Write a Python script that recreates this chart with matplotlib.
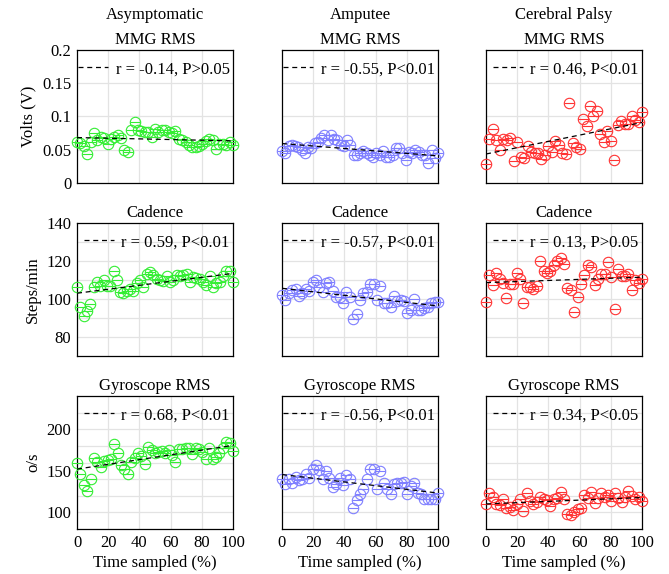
import numpy as np
import matplotlib
matplotlib.use("Agg")
import matplotlib.pyplot as plt

plt.rcParams['font.family'] = ['Liberation Serif', 'DejaVu Serif']

groups = ['Asymptomatic', 'Amputee', 'Cerebral Palsy']
measures = ['MMG RMS', 'Cadence', 'Gyroscope RMS']
ylabels = ['Volts (V)', 'Steps/min', 'o/s']
group_colors = ['#33ee33', '#7f7fff', '#ff3333']

# MMG RMS (V)
mmg_asym = [0.0615, 0.060, 0.056, 0.044, 0.0615, 0.0755, 0.064, 0.069, 0.068, 0.058,
            0.0665, 0.069, 0.0715, 0.0675, 0.050, 0.0465, 0.080, 0.091, 0.080, 0.078,
            0.0765, 0.0765, 0.069, 0.0815, 0.0765, 0.080, 0.079, 0.0765, 0.0755, 0.078,
            0.0665, 0.065, 0.0615, 0.0575, 0.054, 0.054, 0.0555, 0.059, 0.0625, 0.066,
            0.064, 0.0515, 0.058, 0.059, 0.0565, 0.0615, 0.0565]
mmg_amp = [0.048, 0.0446, 0.0556, 0.057, 0.056, 0.0546, 0.0496, 0.0446, 0.0546, 0.052,
           0.0596, 0.062, 0.067, 0.072, 0.0647, 0.072, 0.0657, 0.0647, 0.057, 0.0556,
           0.0647, 0.057, 0.042, 0.042, 0.0446, 0.0486, 0.0446, 0.042, 0.0396, 0.0446,
           0.042, 0.0486, 0.0386, 0.0396, 0.042, 0.052, 0.052, 0.0446, 0.0346, 0.047,
           0.0446, 0.0496, 0.047, 0.042, 0.042, 0.0296, 0.0496, 0.037, 0.0446]
mmg_cp = [0.0286, 0.066, 0.0807, 0.0647, 0.0496, 0.066, 0.0647, 0.067, 0.0336, 0.061,
          0.0396, 0.037, 0.0556, 0.047, 0.0456, 0.0446, 0.0356, 0.042, 0.0556, 0.046,
          0.0637, 0.057, 0.0446, 0.043, 0.121, 0.0596, 0.0546, 0.0506, 0.096, 0.0857,
          0.1158, 0.1007, 0.1088, 0.073, 0.062, 0.0787, 0.0637, 0.0346, 0.087, 0.0932,
          0.0887, 0.0887, 0.1007, 0.0947, 0.0922, 0.1073]

# Cadence (steps/min)
cad_asym = [106.3, 95.8, 90.9, 93.5, 97.3, 106.1, 109.2, 107.0, 109.8, 107.0,
            107.0, 115.0, 109.8, 103.5, 103.1, 104.3, 105.2, 104.0, 108.4, 110.1,
            106.3, 113.3, 114.0, 112.7, 110.5, 109.8, 109.6, 112.2, 108.7, 110.1,
            112.7, 112.2, 112.7, 113.3, 109.2, 111.5, 111.0, 110.5, 108.7, 107.5,
            112.2, 106.3, 108.4, 109.2, 112.2, 114.8, 114.5, 109.2]
cad_amp = [102.1, 99.5, 103.3, 104.7, 105.1, 101.6, 103.3, 105.1, 104.4, 109.1,
           110.0, 106.1, 103.9, 108.2, 108.8, 104.4, 100.9, 101.2, 97.7, 103.9,
           101.2, 89.3, 92.1, 99.5, 103.3, 103.9, 107.9, 107.9, 99.5, 106.8,
           98.1, 97.7, 95.6, 101.6, 99.1, 99.5, 99.1, 92.8, 94.2, 99.8,
           94.2, 94.2, 95.1, 95.6, 98.1, 98.6, 98.6]
cad_cp = [98.6, 112.6, 107.4, 113.9, 110.4, 108.6, 100.4, 107.9, 107.9, 113.5,
          110.4, 98.1, 106.5, 106.1, 105.1, 106.8, 120.2, 114.9, 113.9, 114.9,
          117.9, 120.2, 121.4, 118.4, 105.6, 104.7, 93.3, 101.2, 107.9, 112.6,
          117.9, 116.7, 107.4, 110.4, 113.2, 113.2, 119.7, 111.4, 94.6, 115.6,
          112.1, 112.1, 113.2, 104.7, 110.0, 108.2, 110.4]

# Gyroscope RMS (deg/s)
gyr_asym = [158.9, 146.4, 133.5, 125.4, 140.7, 165.7, 160.5, 154.8, 161.7, 162.9,
            163.7, 182.7, 171.0, 156.5, 152.4, 145.6, 160.5, 165.7, 171.0, 167.7,
            157.7, 178.6, 175.0, 171.0, 172.6, 173.8, 171.0, 175.0, 168.5, 160.5,
            175.8, 175.8, 177.8, 177.8, 169.8, 177.8, 176.6, 172.6, 163.7, 177.0,
            163.7, 166.9, 171.0, 177.8, 184.7, 183.9, 173.8]
gyr_amp = [139.8, 134.5, 139.8, 135.8, 143.0, 139.0, 139.8, 145.8, 141.8, 152.6,
           156.6, 151.0, 140.6, 149.8, 141.8, 130.9, 133.7, 141.8, 132.5, 144.6,
           139.8, 105.6, 114.9, 121.7, 127.7, 139.8, 152.6, 151.8, 128.5, 149.8,
           134.9, 127.7, 121.7, 133.7, 135.8, 135.8, 136.6, 121.7, 131.7, 134.9,
           123.7, 121.7, 116.5, 116.5, 116.5, 115.7, 123.7]
gyr_cp = [109.6, 122.9, 118.9, 109.6, 108.4, 115.7, 105.6, 106.8, 102.8, 109.6,
          116.5, 101.6, 123.7, 113.7, 109.6, 112.5, 118.9, 115.7, 114.9, 107.6,
          115.7, 117.7, 124.5, 116.5, 97.6, 96.4, 100.4, 103.6, 105.6, 120.5,
          117.7, 124.5, 111.7, 117.7, 123.7, 118.9, 120.5, 113.7, 123.7, 117.7,
          112.5, 118.9, 125.7, 119.7, 115.7, 118.9, 113.7]

data = [[mmg_asym, mmg_amp, mmg_cp],
        [cad_asym, cad_amp, cad_cp],
        [gyr_asym, gyr_amp, gyr_cp]]

stats = [['r = -0.14, P>0.05', 'r = -0.55, P<0.01', 'r = 0.46, P<0.01'],
         ['r = 0.59, P<0.01', 'r = -0.57, P<0.01', 'r = 0.13, P>0.05'],
         ['r = 0.68, P<0.01', 'r = -0.56, P<0.01', 'r = 0.34, P<0.05']]

ylims = [(0, 0.2), (70, 140), (80, 240)]
yticks = [[0, 0.05, 0.1, 0.15, 0.2], [80, 100, 120, 140], [100, 150, 200]]
ytick_labels = [['0', '0.05', '0.1', '0.15', '0.2'], ['80', '100', '120', '140'], ['100', '150', '200']]
ygrid = [[0.05, 0.1, 0.15], [80, 90, 100, 110, 120, 130], [100, 120, 140, 160, 180, 200, 220]]
xticks = [0, 20, 40, 60, 80, 100]
xgrid = [20, 40, 60, 80]

W, H = 669, 574
fig = plt.figure(figsize=(W / 100, H / 100), dpi=100)

lefts = [77, 282, 486]
tops = [50, 223, 396]
aw, ah = 156, 133

for i in range(3):
    for j in range(3):
        ax = fig.add_axes([lefts[j] / W, 1 - (tops[i] + ah) / H, aw / W, ah / H])
        # light grid drawn by hand (ticks and grid don't line up in every row)
        for g in xgrid:
            ax.axvline(g, color='#e3e3e3', lw=0.9, zorder=0)
        for g in ygrid[i]:
            ax.axhline(g, color='#e3e3e3', lw=0.9, zorder=0)
        y = np.array(data[i][j])
        x = np.linspace(0, 100, len(y))
        c = group_colors[j]
        ax.plot(x, y, 'o', ms=7.5, mfc='none', mec=c, mew=0.8, clip_on=False, zorder=3)
        ax.plot(x, y, '_', ms=7.5, mec=c, mew=0.8, clip_on=False, zorder=3)
        k, b = np.polyfit(x, y, 1)
        xl = np.array([0, 100])
        ax.plot(xl, k * xl + b, color='black', lw=0.9, dashes=(4, 3), zorder=4,
                label=stats[i][j])
        ax.legend(loc='upper right', bbox_to_anchor=(1.0, 0.94), frameon=False,
                  fontsize=12, borderpad=0.2, handlelength=1.8, handletextpad=0.45,
                  borderaxespad=0.0)
        ax.set_xlim(0, 100)
        ax.set_ylim(*ylims[i])
        ax.set_xticks(xticks)
        ax.set_yticks(yticks[i])
        ax.tick_params(which='both', direction='in', length=0, labelsize=12, pad=4)
        if j == 0:
            ax.set_yticklabels(ytick_labels[i])
            ax.set_ylabel(ylabels[i], fontsize=12)
        else:
            ax.set_yticklabels([])
        if i == 2:
            ax.set_xticklabels([str(v) for v in xticks])
            ax.set_xlabel('Time sampled (%)', fontsize=12, labelpad=3)
        else:
            ax.set_xticklabels([])
        ax.set_title(measures[i], fontsize=12, pad=4)
        for s in ax.spines.values():
            s.set_linewidth(0.9)
        if i == 0:
            fig.text((lefts[j] + aw / 2) / W, 1 - 15 / H, groups[j], ha='center', va='center', fontsize=12)

fig.savefig('out.png', dpi=100)
